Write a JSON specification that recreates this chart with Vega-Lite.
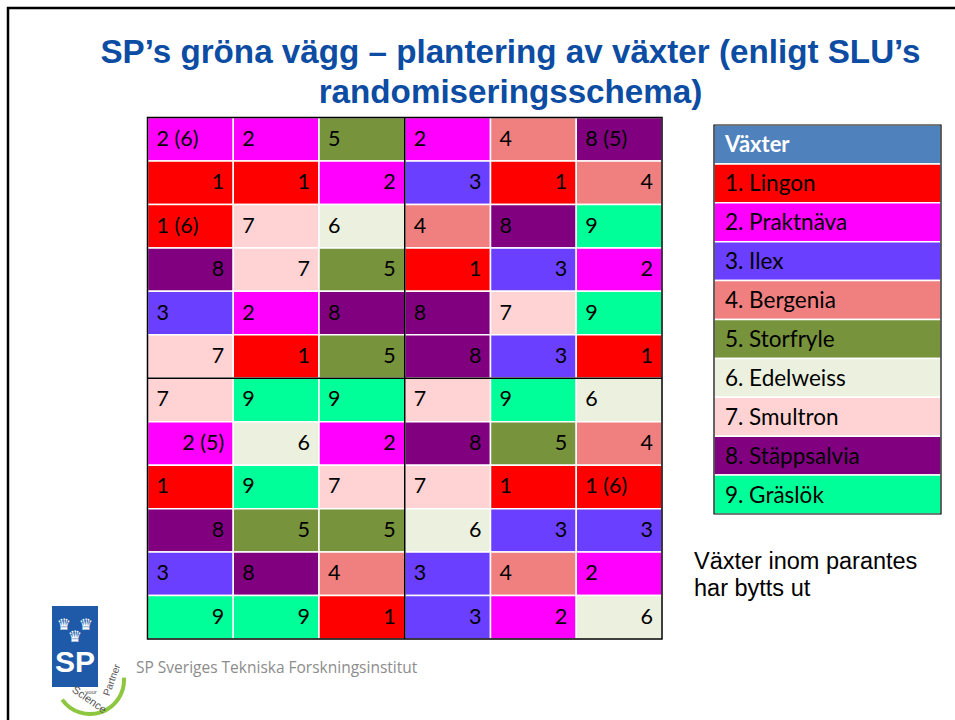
{
  "$schema": "https://vega.github.io/schema/vega-lite/v6.json",
  "width": 955,
  "height": 720,
  "autosize": {"type": "fit", "contains": "padding"},
  "padding": 0,
  "background": "white",
  "config": {"view": {"stroke": null}},
  "resolve": {"scale": {"x": "independent", "y": "independent", "fill": "independent"}},
  "datasets": {
    "cells": [
      {"r": 1, "c": 1, "p": 2, "t": "2 (6)"}, {"r": 1, "c": 2, "p": 2, "t": "2"}, {"r": 1, "c": 3, "p": 5, "t": "5"}, {"r": 1, "c": 4, "p": 2, "t": "2"}, {"r": 1, "c": 5, "p": 4, "t": "4"}, {"r": 1, "c": 6, "p": 8, "t": "8 (5)"},
      {"r": 2, "c": 1, "p": 1, "t": "1"}, {"r": 2, "c": 2, "p": 1, "t": "1"}, {"r": 2, "c": 3, "p": 2, "t": "2"}, {"r": 2, "c": 4, "p": 3, "t": "3"}, {"r": 2, "c": 5, "p": 1, "t": "1"}, {"r": 2, "c": 6, "p": 4, "t": "4"},
      {"r": 3, "c": 1, "p": 1, "t": "1 (6)"}, {"r": 3, "c": 2, "p": 7, "t": "7"}, {"r": 3, "c": 3, "p": 6, "t": "6"}, {"r": 3, "c": 4, "p": 4, "t": "4"}, {"r": 3, "c": 5, "p": 8, "t": "8"}, {"r": 3, "c": 6, "p": 9, "t": "9"},
      {"r": 4, "c": 1, "p": 8, "t": "8"}, {"r": 4, "c": 2, "p": 7, "t": "7"}, {"r": 4, "c": 3, "p": 5, "t": "5"}, {"r": 4, "c": 4, "p": 1, "t": "1"}, {"r": 4, "c": 5, "p": 3, "t": "3"}, {"r": 4, "c": 6, "p": 2, "t": "2"},
      {"r": 5, "c": 1, "p": 3, "t": "3"}, {"r": 5, "c": 2, "p": 2, "t": "2"}, {"r": 5, "c": 3, "p": 8, "t": "8"}, {"r": 5, "c": 4, "p": 8, "t": "8"}, {"r": 5, "c": 5, "p": 7, "t": "7"}, {"r": 5, "c": 6, "p": 9, "t": "9"},
      {"r": 6, "c": 1, "p": 7, "t": "7"}, {"r": 6, "c": 2, "p": 1, "t": "1"}, {"r": 6, "c": 3, "p": 5, "t": "5"}, {"r": 6, "c": 4, "p": 8, "t": "8"}, {"r": 6, "c": 5, "p": 3, "t": "3"}, {"r": 6, "c": 6, "p": 1, "t": "1"},
      {"r": 7, "c": 1, "p": 7, "t": "7"}, {"r": 7, "c": 2, "p": 9, "t": "9"}, {"r": 7, "c": 3, "p": 9, "t": "9"}, {"r": 7, "c": 4, "p": 7, "t": "7"}, {"r": 7, "c": 5, "p": 9, "t": "9"}, {"r": 7, "c": 6, "p": 6, "t": "6"},
      {"r": 8, "c": 1, "p": 2, "t": "2 (5)"}, {"r": 8, "c": 2, "p": 6, "t": "6"}, {"r": 8, "c": 3, "p": 2, "t": "2"}, {"r": 8, "c": 4, "p": 8, "t": "8"}, {"r": 8, "c": 5, "p": 5, "t": "5"}, {"r": 8, "c": 6, "p": 4, "t": "4"},
      {"r": 9, "c": 1, "p": 1, "t": "1"}, {"r": 9, "c": 2, "p": 9, "t": "9"}, {"r": 9, "c": 3, "p": 7, "t": "7"}, {"r": 9, "c": 4, "p": 7, "t": "7"}, {"r": 9, "c": 5, "p": 1, "t": "1"}, {"r": 9, "c": 6, "p": 1, "t": "1 (6)"},
      {"r": 10, "c": 1, "p": 8, "t": "8"}, {"r": 10, "c": 2, "p": 5, "t": "5"}, {"r": 10, "c": 3, "p": 5, "t": "5"}, {"r": 10, "c": 4, "p": 6, "t": "6"}, {"r": 10, "c": 5, "p": 3, "t": "3"}, {"r": 10, "c": 6, "p": 3, "t": "3"},
      {"r": 11, "c": 1, "p": 3, "t": "3"}, {"r": 11, "c": 2, "p": 8, "t": "8"}, {"r": 11, "c": 3, "p": 4, "t": "4"}, {"r": 11, "c": 4, "p": 3, "t": "3"}, {"r": 11, "c": 5, "p": 4, "t": "4"}, {"r": 11, "c": 6, "p": 2, "t": "2"},
      {"r": 12, "c": 1, "p": 9, "t": "9"}, {"r": 12, "c": 2, "p": 9, "t": "9"}, {"r": 12, "c": 3, "p": 1, "t": "1"}, {"r": 12, "c": 4, "p": 3, "t": "3"}, {"r": 12, "c": 5, "p": 2, "t": "2"}, {"r": 12, "c": 6, "p": 6, "t": "6"}
    ],
    "legend": [
      {"i": 0, "p": 0, "label": "Växter"},
      {"i": 1, "p": 1, "label": "1. Lingon"},
      {"i": 2, "p": 2, "label": "2. Praktnäva"},
      {"i": 3, "p": 3, "label": "3. Ilex"},
      {"i": 4, "p": 4, "label": "4. Bergenia"},
      {"i": 5, "p": 5, "label": "5. Storfryle"},
      {"i": 6, "p": 6, "label": "6. Edelweiss"},
      {"i": 7, "p": 7, "label": "7. Smultron"},
      {"i": 8, "p": 8, "label": "8. Stäppsalvia"},
      {"i": 9, "p": 9, "label": "9. Gräslök"}
    ]
  },
  "layer": [
    {
      "data": {"values": [{}]},
      "mark": {"type": "rect", "fill": "transparent", "stroke": "black", "strokeWidth": 2.5},
      "encoding": {
        "x": {"datum": 8, "type": "quantitative", "scale": {"domain": [0, 955], "range": [0, 955], "nice": false, "zero": false}, "axis": null},
        "x2": {"datum": 990},
        "y": {"datum": 8, "type": "quantitative", "scale": {"domain": [0, 720], "range": [0, 720], "nice": false, "zero": false}, "axis": null},
        "y2": {"datum": 760}
      }
    },
    {
      "data": {"values": [{"t": "SP’s gröna vägg – plantering av växter (enligt SLU’s\nrandomiseringsschema)"}]},
      "mark": {"type": "text", "lineBreak": "\n", "align": "center", "baseline": "alphabetic", "font": "Liberation Sans", "fontWeight": "bold", "fontSize": 33.2, "lineHeight": 39.5, "color": "#0C4CA3"},
      "encoding": {
        "text": {"field": "t"},
        "x": {"datum": 510.5, "type": "quantitative", "scale": {"domain": [0, 955], "range": [0, 955], "nice": false, "zero": false}, "axis": null},
        "y": {"datum": 63, "type": "quantitative", "scale": {"domain": [0, 720], "range": [0, 720], "nice": false, "zero": false}, "axis": null}
      }
    },
    {
      "data": {"name": "cells"},
      "mark": {"type": "rect", "stroke": "white", "strokeWidth": 1.5},
      "encoding": {
        "x": {"field": "c", "type": "ordinal", "scale": {"type": "band", "domain": [1, 2, 3, 4, 5, 6], "range": [147.5, 662], "paddingInner": 0, "paddingOuter": 0}, "axis": null},
        "y": {"field": "r", "type": "ordinal", "scale": {"type": "band", "domain": [1, 2, 3, 4, 5, 6, 7, 8, 9, 10, 11, 12], "range": [117.5, 639], "paddingInner": 0, "paddingOuter": 0}, "axis": null},
        "fill": {"field": "p", "type": "nominal", "scale": {"domain": [0, 1, 2, 3, 4, 5, 6, 7, 8, 9], "range": ["#4F81BD", "#FF0000", "#FF00FF", "#6B3FFF", "#F08080", "#77933C", "#EBF1DE", "#FFD3D3", "#800080", "#00FF99"]}, "legend": null}
      }
    },
    {
      "data": {"name": "cells"},
      "transform": [{"filter": "datum.r % 2 == 1"}],
      "mark": {"type": "text", "align": "left", "baseline": "alphabetic", "dx": 9, "dy": 6.5, "font": "Lato", "fontSize": 21.5, "color": "black"},
      "encoding": {
        "text": {"field": "t"},
        "x": {"field": "c", "type": "ordinal", "bandPosition": 0, "scale": {"type": "band", "domain": [1, 2, 3, 4, 5, 6], "range": [147.5, 662], "paddingInner": 0, "paddingOuter": 0}, "axis": null},
        "y": {"field": "r", "type": "ordinal", "bandPosition": 0.5, "scale": {"type": "band", "domain": [1, 2, 3, 4, 5, 6, 7, 8, 9, 10, 11, 12], "range": [117.5, 639], "paddingInner": 0, "paddingOuter": 0}, "axis": null}
      }
    },
    {
      "data": {"name": "cells"},
      "transform": [{"filter": "datum.r % 2 == 0"}],
      "mark": {"type": "text", "align": "right", "baseline": "alphabetic", "dx": -9, "dy": 6.5, "font": "Lato", "fontSize": 21.5, "color": "black"},
      "encoding": {
        "text": {"field": "t"},
        "x": {"field": "c", "type": "ordinal", "bandPosition": 1, "scale": {"type": "band", "domain": [1, 2, 3, 4, 5, 6], "range": [147.5, 662], "paddingInner": 0, "paddingOuter": 0}, "axis": null},
        "y": {"field": "r", "type": "ordinal", "bandPosition": 0.5, "scale": {"type": "band", "domain": [1, 2, 3, 4, 5, 6, 7, 8, 9, 10, 11, 12], "range": [117.5, 639], "paddingInner": 0, "paddingOuter": 0}, "axis": null}
      }
    },
    {
      "data": {"values": [{}]},
      "mark": {"type": "rect", "fill": "transparent", "stroke": "black", "strokeWidth": 1.5},
      "encoding": {
        "x": {"datum": 0, "type": "quantitative", "scale": {"domain": [0, 6], "range": [147.5, 662], "nice": false, "zero": false}, "axis": null},
        "x2": {"datum": 6},
        "y": {"datum": 0, "type": "quantitative", "scale": {"domain": [0, 12], "range": [117.5, 639], "nice": false, "zero": false}, "axis": null},
        "y2": {"datum": 12}
      }
    },
    {
      "data": {"values": [{}]},
      "mark": {"type": "rule", "color": "black", "strokeWidth": 1.5},
      "encoding": {
        "x": {"datum": 3, "type": "quantitative", "scale": {"domain": [0, 6], "range": [147.5, 662], "nice": false, "zero": false}, "axis": null},
        "y": {"datum": 0, "type": "quantitative", "scale": {"domain": [0, 12], "range": [117.5, 639], "nice": false, "zero": false}, "axis": null},
        "y2": {"datum": 12}
      }
    },
    {
      "data": {"values": [{}]},
      "mark": {"type": "rule", "color": "black", "strokeWidth": 1.5},
      "encoding": {
        "x": {"datum": 0, "type": "quantitative", "scale": {"domain": [0, 6], "range": [147.5, 662], "nice": false, "zero": false}, "axis": null},
        "x2": {"datum": 6},
        "y": {"datum": 6, "type": "quantitative", "scale": {"domain": [0, 12], "range": [117.5, 639], "nice": false, "zero": false}, "axis": null}
      }
    },
    {
      "data": {"name": "legend"},
      "mark": {"type": "rect", "stroke": "white", "strokeWidth": 1.5},
      "encoding": {
        "x": {"datum": 0, "type": "quantitative", "scale": {"domain": [0, 1], "range": [714, 941], "nice": false, "zero": false}, "axis": null},
        "x2": {"datum": 1},
        "y": {"field": "i", "type": "ordinal", "scale": {"type": "band", "domain": [0, 1, 2, 3, 4, 5, 6, 7, 8, 9], "range": [125, 514], "paddingInner": 0, "paddingOuter": 0}, "axis": null},
        "fill": {"field": "p", "type": "nominal", "scale": {"domain": [0, 1, 2, 3, 4, 5, 6, 7, 8, 9], "range": ["#4F81BD", "#FF0000", "#FF00FF", "#6B3FFF", "#F08080", "#77933C", "#EBF1DE", "#FFD3D3", "#800080", "#00FF99"]}, "legend": null}
      }
    },
    {
      "data": {"values": [{}]},
      "mark": {"type": "rect", "fill": "transparent", "stroke": "black", "strokeWidth": 1.2},
      "encoding": {
        "x": {"datum": 0, "type": "quantitative", "scale": {"domain": [0, 1], "range": [714, 941], "nice": false, "zero": false}, "axis": null},
        "x2": {"datum": 1},
        "y": {"datum": 0, "type": "quantitative", "scale": {"domain": [0, 1], "range": [125, 514], "nice": false, "zero": false}, "axis": null},
        "y2": {"datum": 1}
      }
    },
    {
      "data": {"name": "legend"},
      "transform": [{"filter": "datum.i == 0"}],
      "mark": {"type": "text", "align": "left", "baseline": "alphabetic", "dx": 11, "dy": 8, "font": "Lato", "fontWeight": "bold", "fontSize": 22, "color": "white"},
      "encoding": {
        "text": {"field": "label"},
        "x": {"datum": 0, "type": "quantitative", "scale": {"domain": [0, 1], "range": [714, 941], "nice": false, "zero": false}, "axis": null},
        "y": {"field": "i", "type": "ordinal", "bandPosition": 0.5, "scale": {"type": "band", "domain": [0, 1, 2, 3, 4, 5, 6, 7, 8, 9], "range": [125, 514], "paddingInner": 0, "paddingOuter": 0}, "axis": null}
      }
    },
    {
      "data": {"name": "legend"},
      "transform": [{"filter": "datum.i > 0"}],
      "mark": {"type": "text", "align": "left", "baseline": "alphabetic", "dx": 11, "dy": 8, "font": "Lato", "fontSize": 22.5, "color": "black"},
      "encoding": {
        "text": {"field": "label"},
        "x": {"datum": 0, "type": "quantitative", "scale": {"domain": [0, 1], "range": [714, 941], "nice": false, "zero": false}, "axis": null},
        "y": {"field": "i", "type": "ordinal", "bandPosition": 0.5, "scale": {"type": "band", "domain": [0, 1, 2, 3, 4, 5, 6, 7, 8, 9], "range": [125, 514], "paddingInner": 0, "paddingOuter": 0}, "axis": null}
      }
    },
    {
      "data": {"values": [{"t": "Växter inom parantes\nhar bytts ut"}]},
      "mark": {"type": "text", "lineBreak": "\n", "align": "left", "baseline": "alphabetic", "font": "Liberation Sans", "fontSize": 23.5, "lineHeight": 26.5, "color": "black"},
      "encoding": {
        "text": {"field": "t"},
        "x": {"datum": 694, "type": "quantitative", "scale": {"domain": [0, 955], "range": [0, 955], "nice": false, "zero": false}, "axis": null},
        "y": {"datum": 569, "type": "quantitative", "scale": {"domain": [0, 720], "range": [0, 720], "nice": false, "zero": false}, "axis": null}
      }
    },
    {
      "data": {"values": [{"t": "SP Sveriges Tekniska Forskningsinstitut"}]},
      "mark": {"type": "text", "align": "left", "baseline": "alphabetic", "font": "Open Sans", "fontSize": 15.5, "color": "#8C8C8C"},
      "encoding": {
        "text": {"field": "t"},
        "x": {"datum": 136, "type": "quantitative", "scale": {"domain": [0, 955], "range": [0, 955], "nice": false, "zero": false}, "axis": null},
        "y": {"datum": 673, "type": "quantitative", "scale": {"domain": [0, 720], "range": [0, 720], "nice": false, "zero": false}, "axis": null}
      }
    },
    {
      "data": {"values": [{}]},
      "mark": {"type": "rect", "fill": "#1E5AA8"},
      "encoding": {
        "x": {"datum": 52, "type": "quantitative", "scale": {"domain": [0, 955], "range": [0, 955], "nice": false, "zero": false}, "axis": null},
        "x2": {"datum": 98},
        "y": {"datum": 606, "type": "quantitative", "scale": {"domain": [0, 720], "range": [0, 720], "nice": false, "zero": false}, "axis": null},
        "y2": {"datum": 687}
      }
    },
    {
      "data": {"values": [{"t": "♛"}]},
      "mark": {"type": "text", "align": "center", "baseline": "middle", "font": "DejaVu Sans", "fontSize": 16, "color": "white"},
      "encoding": {
        "text": {"field": "t"},
        "x": {"datum": 64, "type": "quantitative", "scale": {"domain": [0, 955], "range": [0, 955], "nice": false, "zero": false}, "axis": null},
        "y": {"datum": 625, "type": "quantitative", "scale": {"domain": [0, 720], "range": [0, 720], "nice": false, "zero": false}, "axis": null}
      }
    },
    {
      "data": {"values": [{"t": "♛"}]},
      "mark": {"type": "text", "align": "center", "baseline": "middle", "font": "DejaVu Sans", "fontSize": 16, "color": "white"},
      "encoding": {
        "text": {"field": "t"},
        "x": {"datum": 86, "type": "quantitative", "scale": {"domain": [0, 955], "range": [0, 955], "nice": false, "zero": false}, "axis": null},
        "y": {"datum": 625, "type": "quantitative", "scale": {"domain": [0, 720], "range": [0, 720], "nice": false, "zero": false}, "axis": null}
      }
    },
    {
      "data": {"values": [{"t": "♛"}]},
      "mark": {"type": "text", "align": "center", "baseline": "middle", "font": "DejaVu Sans", "fontSize": 16, "color": "white"},
      "encoding": {
        "text": {"field": "t"},
        "x": {"datum": 75, "type": "quantitative", "scale": {"domain": [0, 955], "range": [0, 955], "nice": false, "zero": false}, "axis": null},
        "y": {"datum": 637, "type": "quantitative", "scale": {"domain": [0, 720], "range": [0, 720], "nice": false, "zero": false}, "axis": null}
      }
    },
    {
      "data": {"values": [{"t": "SP"}]},
      "mark": {"type": "text", "align": "center", "baseline": "alphabetic", "font": "Liberation Sans", "fontWeight": "bold", "fontSize": 30, "color": "white"},
      "encoding": {
        "text": {"field": "t"},
        "x": {"datum": 75, "type": "quantitative", "scale": {"domain": [0, 955], "range": [0, 955], "nice": false, "zero": false}, "axis": null},
        "y": {"datum": 672, "type": "quantitative", "scale": {"domain": [0, 720], "range": [0, 720], "nice": false, "zero": false}, "axis": null}
      }
    },
    {
      "data": {"values": [{}]},
      "mark": {"type": "arc", "radius": 36, "radius2": 32, "theta": 1.5, "theta2": 4.1, "fill": "#8DC63F"},
      "encoding": {
        "x": {"datum": 90, "type": "quantitative", "scale": {"domain": [0, 955], "range": [0, 955], "nice": false, "zero": false}, "axis": null},
        "y": {"datum": 680, "type": "quantitative", "scale": {"domain": [0, 720], "range": [0, 720], "nice": false, "zero": false}, "axis": null}
      }
    },
    {
      "data": {"values": [{"t": "Science"}]},
      "mark": {"type": "text", "align": "center", "baseline": "middle", "font": "Liberation Sans", "fontSize": 11, "angle": 35, "color": "#555555"},
      "encoding": {
        "text": {"field": "t"},
        "x": {"datum": 89, "type": "quantitative", "scale": {"domain": [0, 955], "range": [0, 955], "nice": false, "zero": false}, "axis": null},
        "y": {"datum": 700, "type": "quantitative", "scale": {"domain": [0, 720], "range": [0, 720], "nice": false, "zero": false}, "axis": null}
      }
    },
    {
      "data": {"values": [{"t": "Partner"}]},
      "mark": {"type": "text", "align": "center", "baseline": "middle", "font": "Liberation Sans", "fontSize": 10, "angle": 290, "color": "#555555"},
      "encoding": {
        "text": {"field": "t"},
        "x": {"datum": 112, "type": "quantitative", "scale": {"domain": [0, 955], "range": [0, 955], "nice": false, "zero": false}, "axis": null},
        "y": {"datum": 680, "type": "quantitative", "scale": {"domain": [0, 720], "range": [0, 720], "nice": false, "zero": false}, "axis": null}
      }
    },
    {
      "data": {"values": [{"t": "your"}]},
      "mark": {"type": "text", "align": "center", "baseline": "middle", "font": "Liberation Sans", "fontSize": 6, "color": "#555555"},
      "encoding": {
        "text": {"field": "t"},
        "x": {"datum": 91, "type": "quantitative", "scale": {"domain": [0, 955], "range": [0, 955], "nice": false, "zero": false}, "axis": null},
        "y": {"datum": 692, "type": "quantitative", "scale": {"domain": [0, 720], "range": [0, 720], "nice": false, "zero": false}, "axis": null}
      }
    }
  ]
}
